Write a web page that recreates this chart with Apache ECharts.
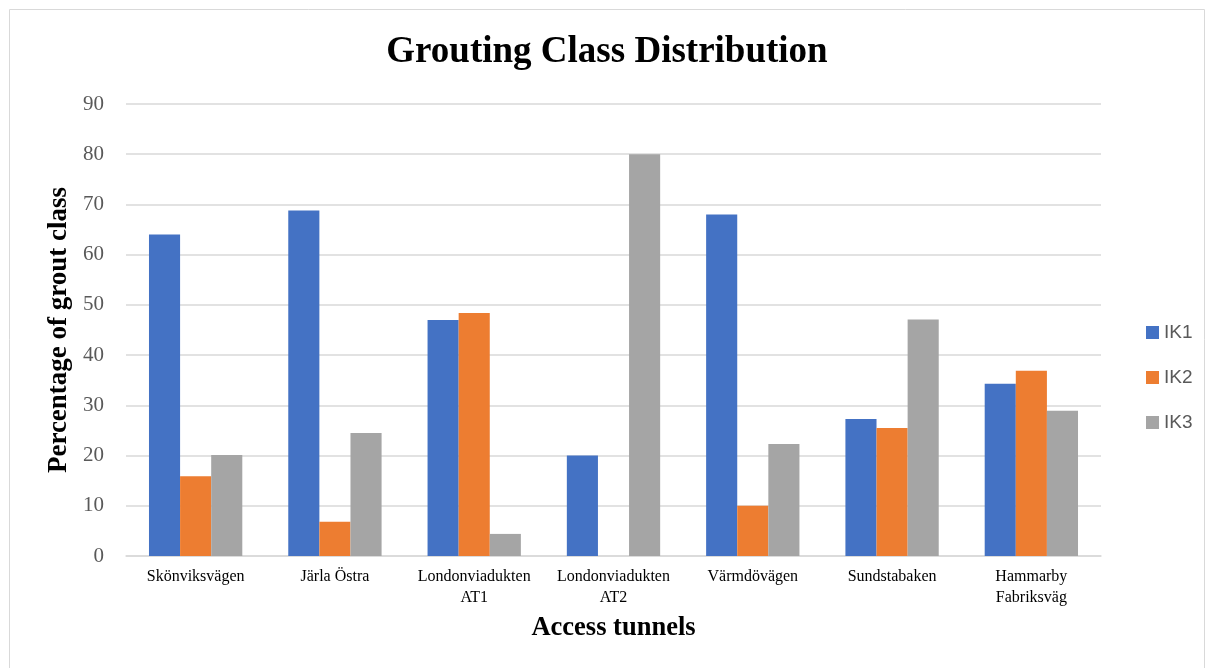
<!DOCTYPE html>
<html>
<head>
<meta charset="utf-8">
<script src="https://cdn.jsdelivr.net/npm/echarts@6/dist/echarts.min.js"></script>
<style>
  html, body { margin: 0; padding: 0; background: #fff; }
  #chart { width: 1214px; height: 668px; }
</style>
</head>
<body>
<div id="chart"></div>
<script>
// 数据
const tunnels = ['Skönviksvägen', 'Järla Östra', 'Londonviadukten\nAT1', 'Londonviadukten\nAT2', 'Värmdövägen', 'Sundstabaken', 'Hammarby\nFabriksväg'];
const ik1 = [64, 68.8, 47, 20, 68, 27.3, 34.3];
const ik2 = [15.9, 6.8, 48.4, 0, 10, 25.5, 36.9];
const ik3 = [20.1, 24.5, 4.4, 80, 22.3, 47.1, 28.9];
const seriesNames = ['IK1', 'IK2', 'IK3'];
const colors = ['#4472C4', '#ED7D31', '#A5A5A5'];

const serif = '"Liberation Serif", "Times New Roman", serif';

const chart = echarts.init(document.getElementById('chart'));

const barSeries = [ik1, ik2, ik3].map((values, i) => ({
    name: seriesNames[i],
    type: 'bar',
    data: values,
    barGap: '0%',
    barCategoryGap: '33%',
    itemStyle: { color: colors[i] }
}));

chart.setOption({
    animation: false,
    color: colors,
    title: {
        text: 'Grouting Class Distribution',
        left: 'center',
        top: 29,
        textStyle: { fontFamily: serif, fontSize: 37, fontWeight: 'bold', color: '#000' }
    },
    // 外边框（下边在画面外）
    graphic: [{
        type: 'rect',
        shape: { x: 9.5, y: 9.5, width: 1195, height: 680 },
        style: { fill: 'none', stroke: '#d9d9d9', lineWidth: 1 },
        silent: true
    }],
    legend: {
        orient: 'vertical',
        left: 1141,
        top: 318,
        itemWidth: 13,
        itemHeight: 13,
        itemGap: 26,
        icon: 'rect',
        textStyle: { fontFamily: '"Liberation Sans", Arial, sans-serif', fontSize: 19, color: '#595959' },
        data: seriesNames
    },
    grid: { left: 126, right: 113, top: 104, bottom: 112 },
    xAxis: {
        type: 'category',
        data: tunnels,
        name: 'Access tunnels',
        nameLocation: 'middle',
        nameGap: 59,
        nameTextStyle: { fontFamily: serif, fontSize: 26.5, fontWeight: 'bold', color: '#000' },
        axisLine: { lineStyle: { color: '#d9d9d9', width: 1.5 } },
        axisTick: { show: false },
        axisLabel: {
            interval: 0,
            fontFamily: serif,
            fontSize: 16,
            color: '#000',
            lineHeight: 21,
            margin: 10
        }
    },
    yAxis: {
        type: 'value',
        min: 0,
        max: 90,
        interval: 10,
        name: 'Percentage of grout class',
        nameLocation: 'middle',
        nameGap: 53,
        nameTextStyle: { fontFamily: serif, fontSize: 27, fontWeight: 'bold', color: '#000' },
        axisLine: { show: false },
        axisTick: { show: false },
        splitLine: { lineStyle: { color: '#d9d9d9', width: 1.5 } },
        axisLabel: { fontFamily: serif, fontSize: 21, color: '#595959', margin: 22 }
    },
    series: barSeries
});
</script>
</body>
</html>
